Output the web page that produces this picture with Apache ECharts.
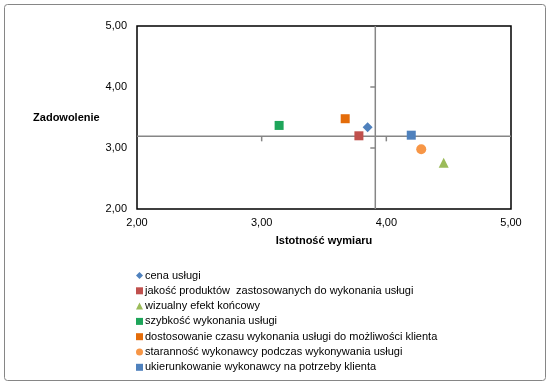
<!DOCTYPE html>
<html><head><meta charset="utf-8">
<script src="https://cdn.jsdelivr.net/npm/echarts@6/dist/echarts.min.js"></script>
<style>html,body{margin:0;padding:0;background:#fff}#c{width:550px;height:384px}</style>
</head><body><div id="c"></div>
<script>
const seriesNames = [
  'cena usługi',
  'jakość produktów  zastosowanych do wykonania usługi',
  'wizualny efekt końcowy',
  'szybkość wykonania usługi',
  'dostosowanie czasu wykonania usługi do możliwości klienta',
  'staranność wykonawcy podczas wykonywania usługi',
  'ukierunkowanie wykonawcy na potrzeby klienta'
];
const istotnosc = [3.85, 3.78, 4.46, 3.14, 3.67, 4.28, 4.20];
const zadowolenie = [3.34, 3.20, 2.76, 3.37, 3.48, 2.98, 3.21];
const xTicks = [2, 3, 4, 5];
const yTicks = [2, 3, 4, 5];

const colors = ['#4F81BD', '#C0504D', '#9BBB59', '#1EA55A', '#E46C0A', '#F79646', '#4F81BD'];
const symbols = ['diamond', 'rect', 'triangle', 'rect', 'rect', 'circle', 'rect'];
const sizes = [10, 9, 10, 9, 9, 10, 9];

const meanX = istotnosc.reduce((a, b) => a + b, 0) / istotnosc.length;
const meanY = zadowolenie.reduce((a, b) => a + b, 0) / zadowolenie.length;
const fmt = v => v.toFixed(2).replace('.', ',');
const FONT = 'Liberation Sans';

const chart = echarts.init(document.getElementById('c'), null, {renderer: 'canvas'});
const series = seriesNames.map((n, i) => ({
  name: n, type: 'scatter', z: 5,
  symbol: symbols[i], symbolSize: sizes[i],
  itemStyle: {color: colors[i], opacity: 1},
  data: [[istotnosc[i], zadowolenie[i]]]
}));
series.unshift({
  type: 'custom', name: 'axes', silent: true, z: 2,
  data: [[meanX, meanY]],
  renderItem: (params, api) => {
    const st = {stroke: '#868686', lineWidth: 1.5};
    const l = api.coord([xTicks[0], meanY]), r = api.coord([xTicks[xTicks.length - 1], meanY]);
    const b = api.coord([meanX, yTicks[0]]), t = api.coord([meanX, yTicks[yTicks.length - 1]]);
    const ch = [
      {type: 'line', shape: {x1: l[0], y1: l[1], x2: r[0], y2: r[1]}, style: st},
      {type: 'line', shape: {x1: b[0], y1: b[1], x2: t[0], y2: t[1]}, style: st}
    ];
    xTicks.slice(1, -1).forEach(v => {
      const p = api.coord([v, meanY]);
      ch.push({type: 'line', shape: {x1: p[0], y1: p[1], x2: p[0], y2: p[1] + 5}, style: st});
    });
    yTicks.slice(1, -1).forEach(v => {
      const p = api.coord([meanX, v]);
      ch.push({type: 'line', shape: {x1: p[0], y1: p[1], x2: p[0] - 5, y2: p[1]}, style: st});
    });
    return {type: 'group', children: ch};
  }
});

chart.setOption({
  animation: false,
  backgroundColor: '#fff',
  textStyle: {fontFamily: FONT},
  graphic: [{type: 'rect', shape: {x: 4.5, y: 4.5, width: 541, height: 376, r: 3},
    style: {fill: 'none', stroke: '#868686', lineWidth: 1}, silent: true}],
  grid: {left: 137, right: 39, top: 26, bottom: 175, show: true, borderColor: '#000', borderWidth: 1.5, backgroundColor: 'transparent'},
  xAxis: {
    type: 'value', min: 2, max: 5, interval: 1,
    axisLine: {show: false}, axisTick: {show: false}, splitLine: {show: false},
    axisLabel: {formatter: fmt, color: '#000', fontSize: 11, fontFamily: FONT, margin: 8},
    name: 'Istotność wymiaru', nameLocation: 'middle', nameGap: 26,
    nameTextStyle: {fontWeight: 'bold', fontSize: 11, color: '#000', fontFamily: FONT}
  },
  yAxis: {
    type: 'value', min: 2, max: 5, interval: 1,
    axisLine: {show: false}, axisTick: {show: false}, splitLine: {show: false},
    axisLabel: {formatter: fmt, color: '#000', fontSize: 11, fontFamily: FONT, margin: 10},
    name: 'Zadowolenie', nameLocation: 'middle', nameRotate: 0, nameGap: 37,
    nameTextStyle: {fontWeight: 'bold', fontSize: 11, color: '#000', fontFamily: FONT, align: 'right'}
  },
  legend: {
    orient: 'vertical', left: 136, top: 268, padding: 0,
    itemWidth: 7, itemHeight: 7, itemGap: 0.3,
    data: seriesNames,
    textStyle: {fontSize: 11, color: '#000', fontFamily: FONT, lineHeight: 15, padding: [0, 0, 0, -3]}
  },
  series: series
});
</script></body></html>
